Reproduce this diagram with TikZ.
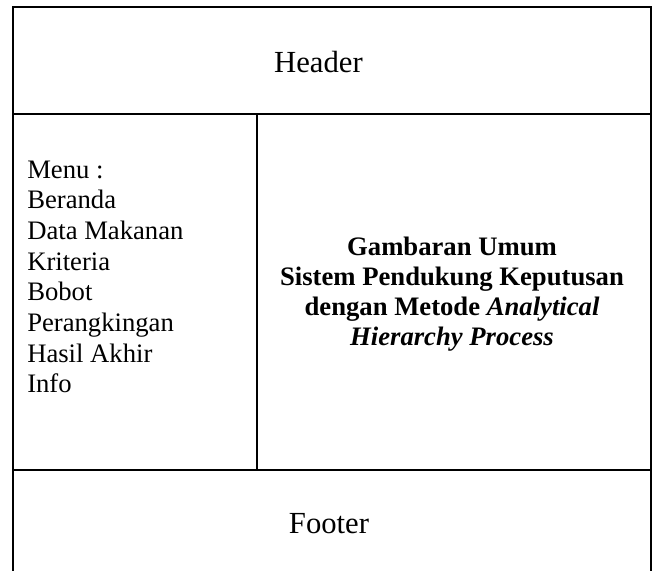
\documentclass[tikz,border=0pt]{standalone}
\usepackage{fontspec}
\setmainfont{Liberation Serif}
\begin{document}
\begin{tikzpicture}[x=0.75pt,y=-0.75pt,
  frame/.style={line width=1.5pt,line cap=rect},
  menutext/.style={anchor=base west,inner sep=0pt,font=\fontsize{20}{23}\selectfont},
  titletext/.style={anchor=base,inner sep=0pt,font=\fontsize{20}{23}\selectfont\bfseries},
  bigtext/.style={anchor=base,inner sep=0pt,font=\fontsize{23}{27}\selectfont}]
\useasboundingbox (0,0) rectangle (654,571);
% frame
\draw[frame] (13,571) -- (13,7) -- (651,7) -- (651,571);
\draw[frame] (13,114) -- (651,114);
\draw[frame] (13,470) -- (651,470);
\draw[frame] (257,114) -- (257,470);
% header / footer
\node[bigtext] (header) at (318.5,72) {Header};
\node[bigtext] (footer) at (329,533) {Footer};
% menu
\node[menutext] (m1) at (27,178) {Menu :};
\node[menutext] (m2) at (27,208.7) {Beranda};
\node[menutext] (m3) at (27,239.4) {Data Makanan};
\node[menutext] (m4) at (27,270.1) {Kriteria};
\node[menutext] (m5) at (27,300.8) {Bobot};
\node[menutext] (m6) at (27,331.5) {Perangkingan};
\node[menutext] (m7) at (27,362.2) {Hasil Akhir};
\node[menutext] (m8) at (27,392.9) {Info};
% content
\node[titletext] (c1) at (452,255) {Gambaran Umum};
\node[titletext] (c2) at (452,285) {Sistem Pendukung Keputusan};
\node[titletext] (c3) at (452,315) {dengan Metode \textit{Analytical}};
\node[titletext] (c4) at (452,345) {\textit{Hierarchy Process}};
\end{tikzpicture}
\end{document}
